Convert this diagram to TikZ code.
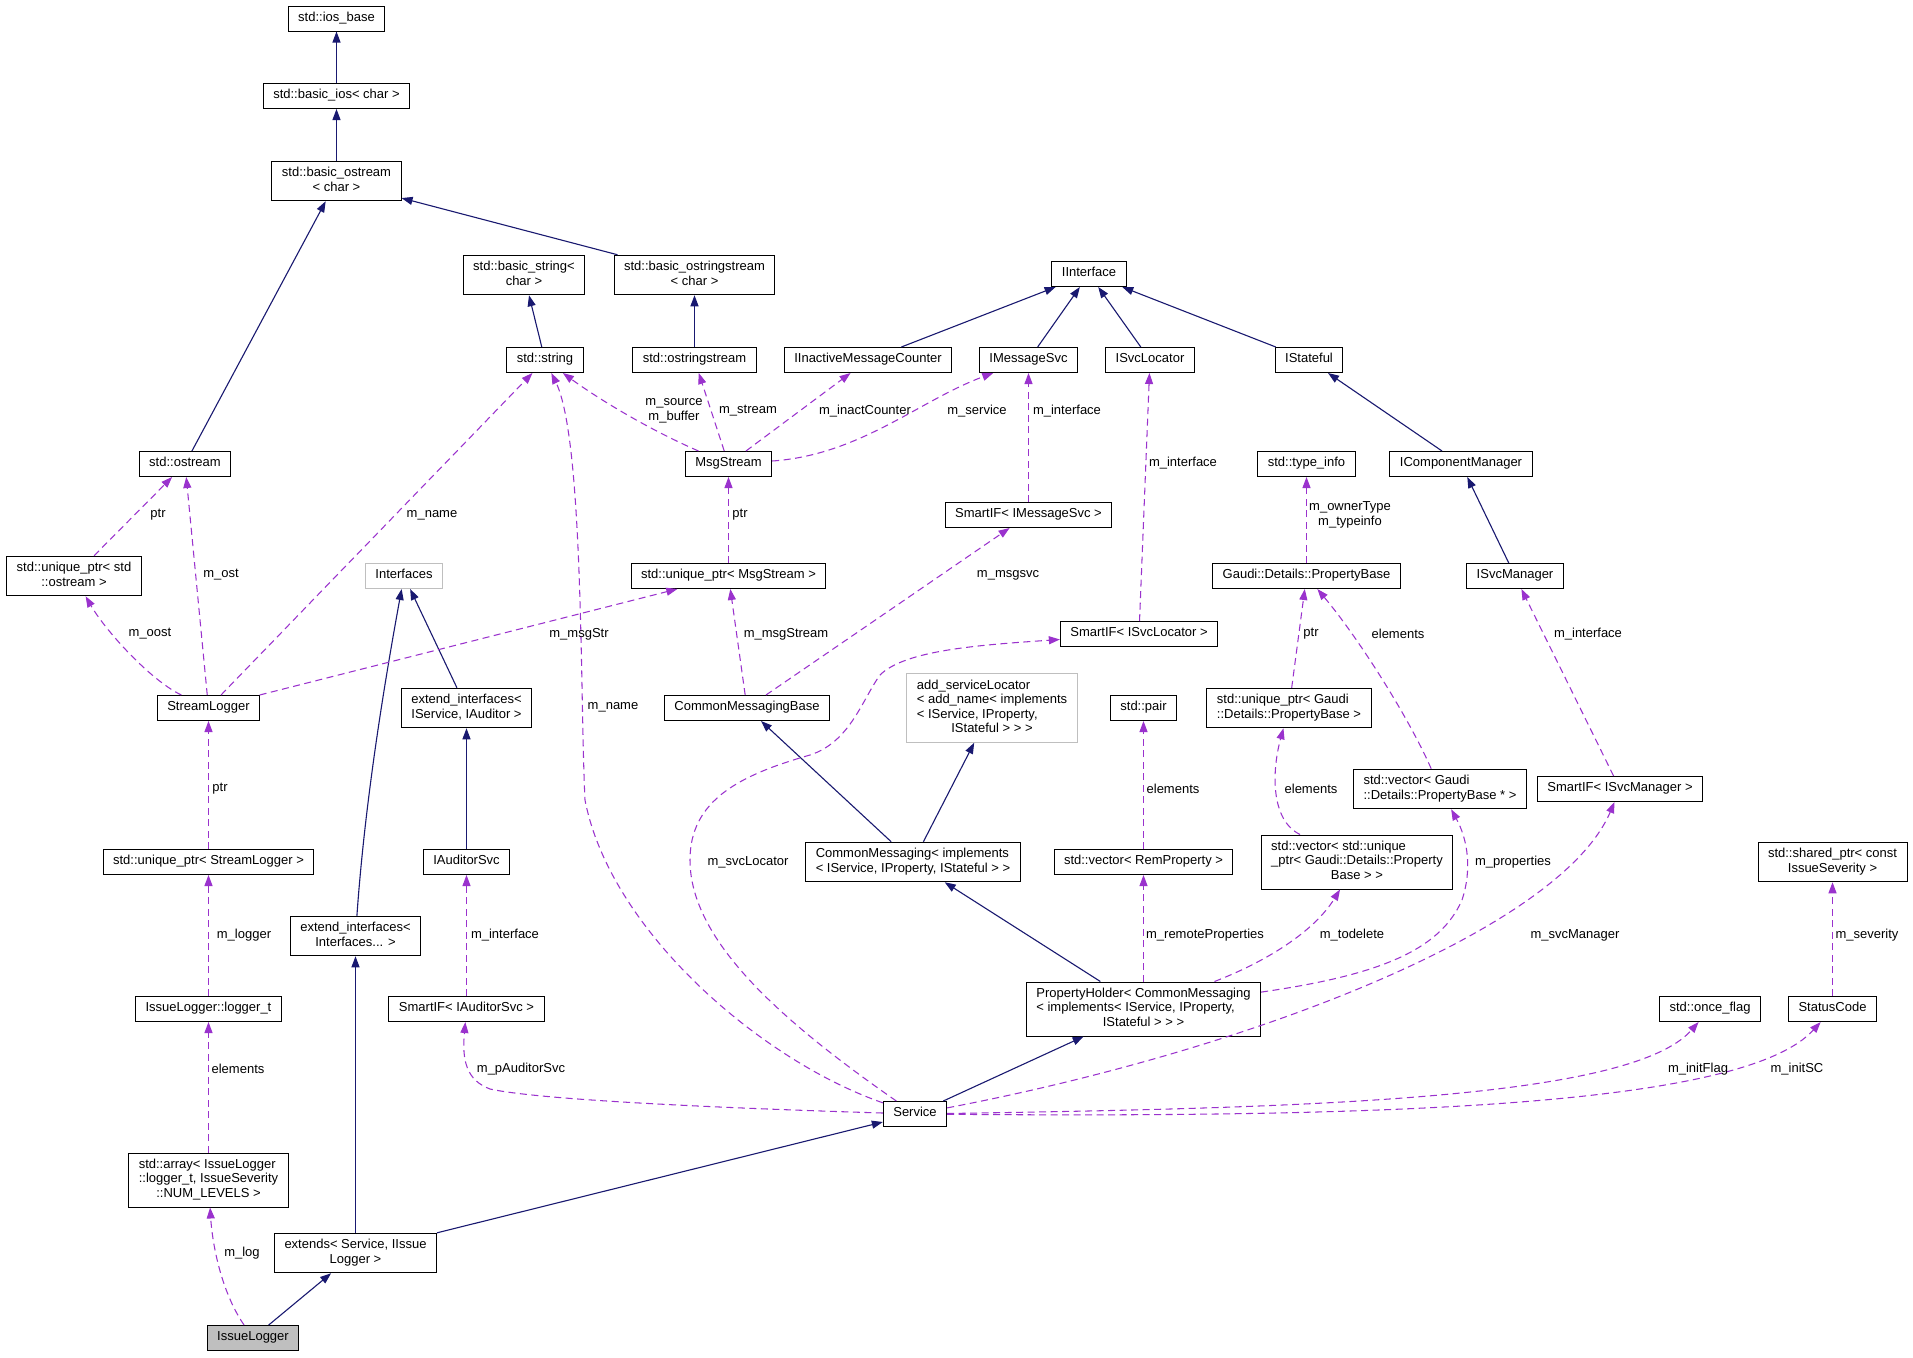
\documentclass[tikz,border=0pt]{standalone}
\usepackage{fontspec}
\setmainfont{Liberation Sans}
\usetikzlibrary{arrows.meta}
\definecolor{navyc}{HTML}{191970}
\definecolor{usec}{HTML}{9A32CD}
\definecolor{grayc}{HTML}{BFBFBF}
\newcommand{\tb}[1]{\begin{tabular}{@{}l@{}}#1\end{tabular}}
\newcommand{\lc}[1]{\multicolumn{1}{@{}c@{}}{#1}}
\tikzset{
  box/.style={draw=black, line width=1pt, fill=white, inner xsep=10pt, inner ysep=5.25pt, font=\fontsize{13}{14.5}\selectfont},
  gbox/.style={box, draw=grayc},
  hbox/.style={box, fill=grayc},
  inh/.style={draw=navyc, line width=1.1pt, -{Triangle[length=11pt,width=8pt]}},
  use/.style={draw=usec, line width=1.05pt, dash pattern=on 7pt off 4.5pt, -{Triangle[length=11pt,width=8pt]}},
  lbl/.style={font=\fontsize{13}{14.5}\selectfont, inner sep=0pt, align=center}
}
\begin{document}
\begin{tikzpicture}[x=1pt,y=-1pt]
\fill[white] (0,0) rectangle (1913,1357);
\useasboundingbox (0,0) rectangle (1913,1357);
% nodes
\node[box] (iosbase) at (336.5,18.5) {\tb{std::ios\_base}};
\node[box] (basicios) at (336.5,96) {\tb{std::basic\_ios< char >}};
\node[box] (basicostream) at (336.5,181) {\tb{std::basic\_ostream\\\lc{< char >}}};
\node[box] (basicstring) at (524,275) {\tb{std::basic\_string<\\\lc{char >}}};
\node[box] (basicostrs) at (694.5,275) {\tb{std::basic\_ostringstream\\\lc{< char >}}};
\node[box] (stdstring) at (545,360) {\tb{std::string}};
\node[box] (ostrs) at (694.5,360) {\tb{std::ostringstream}};
\node[box] (iinactive) at (868,360) {\tb{IInactiveMessageCounter}};
\node[box] (imsgsvc) at (1028.5,360) {\tb{IMessageSvc}};
\node[box] (isvcloc) at (1150,360) {\tb{ISvcLocator}};
\node[box] (iinterface) at (1089,274) {\tb{IInterface}};
\node[box] (istateful) at (1309,360) {\tb{IStateful}};
\node[box] (msgstream) at (728.5,464) {\tb{MsgStream}};
\node[box] (smartims) at (1028.5,515) {\tb{SmartIF< IMessageSvc >}};
\node[box] (typeinfo) at (1306.5,464) {\tb{std::type\_info}};
\node[box] (icompmgr) at (1461,464) {\tb{IComponentManager}};
\node[box] (propbase) at (1306.5,576) {\tb{Gaudi::Details::PropertyBase}};
\node[box] (isvcmgr) at (1515,576) {\tb{ISvcManager}};
\node[box] (uptrmsg) at (728.5,576) {\tb{std::unique\_ptr< MsgStream >}};
\node[box] (smartisl) at (1139,634) {\tb{SmartIF< ISvcLocator >}};
\node[box] (ostream) at (185,464) {\tb{std::ostream}};
\node[box] (uptrost) at (74,576) {\tb{std::unique\_ptr< std\\\lc{::ostream >}}};
\node[gbox] (interfaces) at (404,576) {\tb{Interfaces}};
\node[box] (streamlogger) at (208.5,708) {\tb{StreamLogger}};
\node[box] (extifaud) at (466.5,708) {\tb{extend\_interfaces<\\\lc{IService, IAuditor >}}};
\node[box] (cmbase) at (747,708) {\tb{CommonMessagingBase}};
\node[gbox] (addsl) at (992,708) {\tb{add\_serviceLocator\\< add\_name< implements\\< IService, IProperty,\\\lc{IStateful > > >}}};
\node[box] (stdpair) at (1143.5,708) {\tb{std::pair}};
\node[box] (uptrpb) at (1289,708) {\tb{std::unique\_ptr< Gaudi\\\lc{::Details::PropertyBase >}}};
\node[box] (vecpbs) at (1440,789) {\tb{std::vector< Gaudi\\\lc{::Details::PropertyBase * >}}};
\node[box] (smartism) at (1620,789) {\tb{SmartIF< ISvcManager >}};
\node[box] (uptrsl) at (208.5,862) {\tb{std::unique\_ptr< StreamLogger >}};
\node[box] (iauditorsvc) at (466.5,862) {\tb{IAuditorSvc}};
\node[box] (cmsg) at (913,862) {\tb{CommonMessaging< implements\\\lc{< IService, IProperty, IStateful > >}}};
\node[box] (vecrem) at (1143.5,862) {\tb{std::vector< RemProperty >}};
\node[box] (vecuptr) at (1357,862) {\tb{std::vector< std::unique\\\_ptr< Gaudi::Details::Property\\\lc{Base > >}}};
\node[box] (sharedsev) at (1832.5,862) {\tb{std::shared\_ptr< const\\\lc{IssueSeverity >}}};
\node[box] (extifs) at (355.5,936) {\tb{extend\_interfaces<\\\lc{Interfaces... >}}};
\node[box] (loggert) at (208.5,1009) {\tb{IssueLogger::logger\_t}};
\node[box] (smartaud) at (466.5,1009) {\tb{SmartIF< IAuditorSvc >}};
\node[box] (propholder) at (1143.5,1009) {\tb{PropertyHolder< CommonMessaging\\< implements< IService, IProperty,\\\lc{IStateful > > >}}};
\node[box] (onceflag) at (1710,1009) {\tb{std::once\_flag}};
\node[box] (statuscode) at (1832.5,1009) {\tb{StatusCode}};
\node[box] (service) at (915,1114) {\tb{Service}};
\node[box] (stdarray) at (208.5,1180) {\tb{std::array< IssueLogger\\::logger\_t, IssueSeverity\\\lc{::NUM\_LEVELS >}}};
\node[box] (extends) at (355.5,1253) {\tb{extends< Service, IIssue\\\lc{Logger >}}};
\node[hbox] (issuelogger) at (253,1338) {\tb{IssueLogger}};
% inheritance
\draw[inh] (basicios) -- (iosbase);
\draw[inh] (basicostream) -- (basicios);
\draw[inh] (ostream) -- (basicostream);
\draw[inh] (basicostrs) -- (basicostream);
\draw[inh] (stdstring) -- (basicstring);
\draw[inh] (ostrs) -- (basicostrs);
\draw[inh] (iinactive) -- (iinterface);
\draw[inh] (imsgsvc) -- (iinterface);
\draw[inh] (isvcloc) -- (iinterface);
\draw[inh] (istateful) -- (iinterface);
\draw[inh] (icompmgr) -- (istateful);
\draw[inh] (isvcmgr) -- (icompmgr);
\draw[inh] (extifaud) -- (interfaces);
\draw[inh] (extifs) .. controls (365,800) and (385,680) .. (interfaces);
\draw[inh] (iauditorsvc) -- (extifaud);
\draw[inh] (cmsg) -- (cmbase);
\draw[inh] (cmsg) -- (addsl);
\draw[inh] (propholder) -- (cmsg);
\draw[inh] (service) -- (propholder);
\draw[inh] (extends) -- (service);
\draw[inh] (extends) -- (extifs);
\draw[inh] (issuelogger) -- (extends);
% usage
\draw[use] (msgstream) .. controls (650,430) and (600,400) .. (stdstring);
\draw[use] (msgstream) -- (ostrs);
\draw[use] (msgstream) -- (iinactive);
\draw[use] (msgstream) .. controls (860,455) and (920,400) .. (imsgsvc);
\draw[use] (smartims) -- (imsgsvc);
\draw[use] (smartisl) -- (isvcloc);
\draw[use] (propbase) -- (typeinfo);
\draw[use] (uptrmsg) -- (msgstream);
\draw[use] (uptrost) -- (ostream);
\draw[use] (streamlogger) -- (ostream);
\draw[use] (streamlogger) -- (stdstring);
\draw[use] (streamlogger) .. controls (150,680) and (105,630) .. (uptrost);
\draw[use] (streamlogger) -- (uptrmsg);
\draw[use] (cmbase) -- (uptrmsg);
\draw[use] (cmbase) -- (smartims);
\draw[use] (uptrpb) -- (propbase);
\draw[use] (vecpbs) .. controls (1410,720) and (1360,640) .. (propbase);
\draw[use] (smartism) -- (isvcmgr);
\draw[use] (uptrsl) -- (streamlogger);
\draw[use] (loggert) -- (uptrsl);
\draw[use] (stdarray) -- (loggert);
\draw[use] (issuelogger) .. controls (220,1290) and (212,1240) .. (stdarray);
\draw[use] (smartaud) -- (iauditorsvc);
\draw[use] (service) .. controls (720,1108) and (540,1100) .. (490,1089) .. controls (466,1080) and (462,1060) .. (smartaud);
\draw[use] (service) .. controls (760,1060) and (610,930) .. (585,800) .. controls (580,700) and (584,440) .. (stdstring);
\draw[use] (service) .. controls (780,1020) and (690,940) .. (690,860) .. controls (690,800) and (740,775) .. (810,755) .. controls (850,742) and (862,700) .. (880,675) .. controls (905,650) and (980,645) .. (smartisl);
\draw[use] (vecrem) -- (stdpair);
\draw[use] (vecuptr) .. controls (1270,820) and (1272,770) .. (uptrpb);
\draw[use] (propholder) -- (vecrem);
\draw[use] (propholder) .. controls (1270,960) and (1315,930) .. (vecuptr);
\draw[use] (propholder) .. controls (1380,975) and (1440,950) .. (1462,900) .. controls (1472,870) and (1468,840) .. (vecpbs);
\draw[use] (service) .. controls (1250,1050) and (1560,930) .. (smartism);
\draw[use] (statuscode) -- (sharedsev);
\draw[use] (service) .. controls (1300,1108) and (1630,1100) .. (onceflag);
\draw[use] (service) .. controls (1400,1118) and (1745,1105) .. (statuscode);
% labels
\node[lbl] (l1) at (674,411) {m\_source\\m\_buffer};
\node[lbl] (l2) at (748,411) {m\_stream};
\node[lbl] (l3) at (865,411) {m\_inactCounter};
\node[lbl] (l4) at (977,411) {m\_service};
\node[lbl] (l5) at (1067,411) {m\_interface};
\node[lbl] (l6) at (1183,463) {m\_interface};
\node[lbl] (l7) at (740,515) {ptr};
\node[lbl] (l8) at (1008,575) {m\_msgsvc};
\node[lbl] (l9) at (786,634) {m\_msgStream};
\node[lbl] (l10) at (1350,515) {m\_ownerType\\m\_typeinfo};
\node[lbl] (l11) at (1311,634) {ptr};
\node[lbl] (l12) at (1398,634) {elements};
\node[lbl] (l13) at (1588,634) {m\_interface};
\node[lbl] (l14) at (158,515) {ptr};
\node[lbl] (l15) at (432,515) {m\_name};
\node[lbl] (l16) at (221,575) {m\_ost};
\node[lbl] (l17) at (150,634) {m\_oost};
\node[lbl] (l18) at (579,634) {m\_msgStr};
\node[lbl] (l19) at (613,707) {m\_name};
\node[lbl] (l20) at (220,789) {ptr};
\node[lbl] (l21) at (748,862) {m\_svcLocator};
\node[lbl] (l22) at (1173,789) {elements};
\node[lbl] (l23) at (1311,789) {elements};
\node[lbl] (l24) at (1205,935) {m\_remoteProperties};
\node[lbl] (l25) at (1352,935) {m\_todelete};
\node[lbl] (l26) at (1513,862) {m\_properties};
\node[lbl] (l27) at (1575,935) {m\_svcManager};
\node[lbl] (l28) at (1867,935) {m\_severity};
\node[lbl] (l29) at (1698,1069) {m\_initFlag};
\node[lbl] (l30) at (1797,1069) {m\_initSC};
\node[lbl] (l31) at (244,935) {m\_logger};
\node[lbl] (l32) at (505,935) {m\_interface};
\node[lbl] (l33) at (238,1069) {elements};
\node[lbl] (l34) at (521,1069) {m\_pAuditorSvc};
\node[lbl] (l35) at (242,1253) {m\_log};
\end{tikzpicture}
\end{document}
